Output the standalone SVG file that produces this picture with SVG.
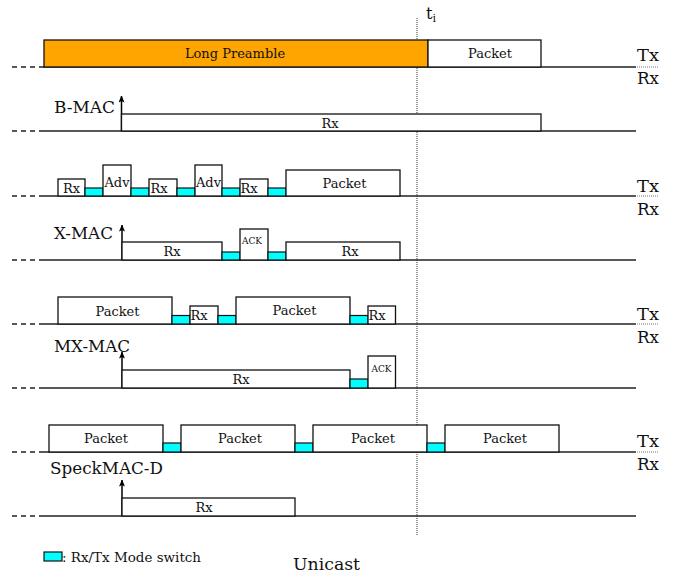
<svg xmlns="http://www.w3.org/2000/svg" width="673" height="573" viewBox="0 0 673 573">
<defs>
<marker id="ah" markerWidth="7" markerHeight="6" refX="6.5" refY="3" orient="auto" markerUnits="userSpaceOnUse" viewBox="0 0 7 6">
<path d="M0,0 L7,3 L0,6 L1.5,3 Z" fill="#000"/>
</marker>
</defs>
<style>
.base{stroke:#222;stroke-width:1.5;fill:none}
.dash{stroke:#222;stroke-width:1.5;stroke-dasharray:5,4;fill:none}
.box{fill:#fff;stroke:#111;stroke-width:1.3}
.pre{fill:#FFA500;stroke:#111;stroke-width:1.3}
.sw{fill:#00FFFF;stroke:#111;stroke-width:1.2}
.arr{stroke:#000;stroke-width:1.5;fill:none}
.lbl{font-family:"DejaVu Serif","Liberation Serif",serif;font-size:13px;fill:#111;text-anchor:middle}
.ack{font-family:"DejaVu Serif","Liberation Serif",serif;font-size:9px;fill:#111;text-anchor:middle}
.big{font-family:"DejaVu Serif","Liberation Serif",serif;font-size:16px;fill:#111}
.sep{stroke:#777;stroke-width:1;stroke-dasharray:1,1}
.vt{stroke:#333;stroke-width:1;stroke-dasharray:1,1}
</style>

<g id="connectors">
<path class="dash" d="M12,67 H44 M12,131 H44 M12,196 H44 M12,260 H44 M12,324 H44 M12,388 H44 M12,452 H44 M12,516 H44"/>
<path class="base" d="M44,67 H636 M44,131 H636 M44,196 H636 M44,260 H636 M44,324 H636 M44,388 H636 M44,452 H636 M44,516 H636"/>
<path class="sep" d="M637,67 H659 M637,196 H659 M637,324 H659 M637,452 H659"/>
<line class="arr" x1="121.5" y1="131" x2="121.5" y2="96" marker-end="url(#ah)"/>
<line class="arr" x1="122" y1="260" x2="122" y2="225" marker-end="url(#ah)"/>
<line class="arr" x1="122" y1="388" x2="122" y2="352" marker-end="url(#ah)"/>
<line class="arr" x1="122" y1="516" x2="122" y2="480" marker-end="url(#ah)"/>
<line class="vt" x1="417" y1="18" x2="417" y2="536"/>
</g>

<g id="bmac-tx">
<rect class="pre" x="44" y="40" width="384" height="27"/>
<text class="lbl" x="235" y="58">Long Preamble</text>
<rect class="box" x="428" y="40" width="113" height="27"/>
<text class="lbl" x="490" y="58">Packet</text>
</g>
<g id="bmac-rx">
<text class="big" x="54" y="113" textLength="61" lengthAdjust="spacingAndGlyphs">B-MAC</text>
<rect class="box" x="121.5" y="114" width="419.5" height="17"/>
<text class="lbl" x="330" y="128">Rx</text>
</g>

<g id="xmac-tx">
<rect class="box" x="58" y="179" width="27" height="17"/>
<text class="lbl" x="71.5" y="193">Rx</text>
<rect class="sw" x="85" y="188" width="18" height="8"/>
<rect class="box" x="103" y="165" width="28" height="31"/>
<text class="lbl" x="117" y="187">Adv</text>
<rect class="sw" x="131" y="188" width="18" height="8"/>
<rect class="box" x="149" y="179" width="28" height="17"/>
<text class="lbl" x="159" y="193">Rx</text>
<rect class="sw" x="177" y="188" width="18" height="8"/>
<rect class="box" x="195" y="165" width="27" height="31"/>
<text class="lbl" x="208.5" y="187">Adv</text>
<rect class="sw" x="222" y="188" width="18" height="8"/>
<rect class="box" x="240" y="179" width="28" height="17"/>
<text class="lbl" x="249" y="193">Rx</text>
<rect class="sw" x="268" y="188" width="18" height="8"/>
<rect class="box" x="286" y="170" width="114" height="26"/>
<text class="lbl" x="344.5" y="187.5">Packet</text>
</g>
<g id="xmac-rx">
<text class="big" x="54" y="239" textLength="59" lengthAdjust="spacingAndGlyphs">X-MAC</text>
<rect class="box" x="122" y="242" width="100" height="18"/>
<text class="lbl" x="172" y="256">Rx</text>
<rect class="sw" x="222" y="252" width="18" height="8"/>
<rect class="box" x="240" y="229" width="28" height="31"/>
<text class="ack" x="252" y="244">ACK</text>
<rect class="sw" x="268" y="252" width="18" height="8"/>
<rect class="box" x="286" y="242" width="114" height="18"/>
<text class="lbl" x="350" y="256">Rx</text>
</g>

<g id="mxmac-tx">
<rect class="box" x="58" y="297" width="114" height="27"/>
<text class="lbl" x="117.5" y="315.5">Packet</text>
<rect class="sw" x="172" y="315.5" width="18" height="8.5"/>
<rect class="box" x="190" y="306" width="28" height="18"/>
<text class="lbl" x="199" y="320">Rx</text>
<rect class="sw" x="218" y="315.5" width="18" height="8.5"/>
<rect class="box" x="236" y="297" width="114" height="27"/>
<text class="lbl" x="294.5" y="315">Packet</text>
<rect class="sw" x="350" y="315.5" width="18" height="8.5"/>
<rect class="box" x="368" y="306" width="27.5" height="18"/>
<text class="lbl" x="377" y="320">Rx</text>
</g>
<g id="mxmac-rx">
<text class="big" x="54" y="352" textLength="76" lengthAdjust="spacingAndGlyphs">MX-MAC</text>
<rect class="box" x="122" y="370" width="228" height="18"/>
<text class="lbl" x="241" y="383.5">Rx</text>
<rect class="sw" x="350" y="379" width="18" height="9"/>
<rect class="box" x="368" y="356" width="27.5" height="32"/>
<text class="ack" x="381.5" y="372">ACK</text>
</g>

<g id="speckmac-tx">
<rect class="box" x="49" y="425" width="114" height="27"/>
<text class="lbl" x="106" y="443">Packet</text>
<rect class="sw" x="163" y="443" width="18" height="9"/>
<rect class="box" x="181" y="425" width="114" height="27"/>
<text class="lbl" x="240" y="443">Packet</text>
<rect class="sw" x="295" y="443" width="18" height="9"/>
<rect class="box" x="313" y="425" width="114" height="27"/>
<text class="lbl" x="373" y="443">Packet</text>
<rect class="sw" x="427" y="443" width="18" height="9"/>
<rect class="box" x="445" y="425" width="114" height="27"/>
<text class="lbl" x="505" y="443">Packet</text>
</g>
<g id="speckmac-rx">
<text class="big" x="50" y="474" textLength="113" lengthAdjust="spacingAndGlyphs">SpeckMAC-D</text>
<rect class="box" x="122" y="498" width="173" height="18"/>
<text class="lbl" x="204" y="511.5">Rx</text>
</g>

<g id="txrx-labels">
<text class="big" x="637" y="61" textLength="22" lengthAdjust="spacingAndGlyphs">Tx</text>
<text class="big" x="637" y="84" textLength="22" lengthAdjust="spacingAndGlyphs">Rx</text>
<text class="big" x="637" y="192" textLength="22" lengthAdjust="spacingAndGlyphs">Tx</text>
<text class="big" x="637" y="215" textLength="22" lengthAdjust="spacingAndGlyphs">Rx</text>
<text class="big" x="637" y="320" textLength="22" lengthAdjust="spacingAndGlyphs">Tx</text>
<text class="big" x="637" y="343" textLength="22" lengthAdjust="spacingAndGlyphs">Rx</text>
<text class="big" x="637" y="447" textLength="22" lengthAdjust="spacingAndGlyphs">Tx</text>
<text class="big" x="637" y="470" textLength="22" lengthAdjust="spacingAndGlyphs">Rx</text>
</g>

<g id="ti">
<text class="big" x="426" y="19">t<tspan font-size="11" dy="3">i</tspan></text>
</g>

<g id="legend">
<rect class="sw" x="44" y="552" width="18" height="9"/>
<text x="62" y="562" font-family="DejaVu Serif, Liberation Serif, serif" font-size="12" fill="#111" textLength="139" lengthAdjust="spacingAndGlyphs">: Rx/Tx Mode switch</text>
<text class="big" x="293" y="570" font-size="17" textLength="67" lengthAdjust="spacingAndGlyphs">Unicast</text>
</g>
</svg>
